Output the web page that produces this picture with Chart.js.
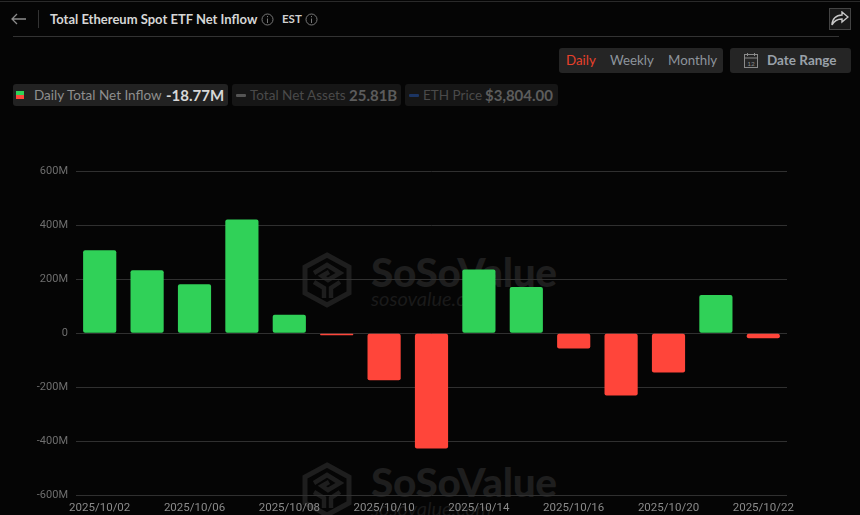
<!DOCTYPE html>
<html>
<head>
<meta charset="utf-8">
<script src="https://cdn.jsdelivr.net/npm/chart.js@4"></script>
<style>
html, body { margin: 0; padding: 0; background: #050505; width: 860px; height: 515px; overflow: hidden; font-family: Lato, sans-serif; }
.abs { position: absolute; white-space: nowrap; }
#chartBox { position: absolute; left: 0; top: 157px; width: 860px; height: 358px; }
.wm1 { color: #1e1e1e; font-weight: 900; font-size: 40.5px; letter-spacing: -0.3px; }
.wm2 { color: #1a1a1a; font-style: italic; font-size: 20px; }
.chip { position: absolute; top: 84px; height: 22px; border-radius: 3px; }
.btn { position: absolute; top: 48px; height: 25px; background: #252525; border-radius: 3px; }
</style>
</head>
<body>
<div class="abs" style="left:0;top:1px;width:860px;height:1px;background:#2a2a2a"></div>
<svg class="abs" style="left:10px;top:12px" width="18" height="14" viewBox="0 0 18 14"><path d="M16 7H2M7 2L2 7L7 12" fill="none" stroke="#8c8c8c" stroke-width="1.3"/></svg>
<div class="abs" style="left:38px;top:10px;width:1px;height:18px;background:#333"></div>
<div class="abs" style="left:50px;top:10px;color:#d6d6d6;font-size:13px;font-weight:700;line-height:18px">Total Ethereum Spot ETF Net Inflow</div>
<svg class="abs" style="left:261px;top:13px" width="13" height="13"><circle cx="6.5" cy="6.5" r="5.5" fill="none" stroke="#777"/><path d="M6.5 5.5V10M6.5 3V4.2" stroke="#777"/></svg>
<div class="abs" style="left:282px;top:10px;color:#cfcfcf;font-size:11.5px;font-weight:700;line-height:18px">EST</div>
<svg class="abs" style="left:305px;top:13px" width="13" height="13"><circle cx="6.5" cy="6.5" r="5.5" fill="none" stroke="#777"/><path d="M6.5 5.5V10M6.5 3V4.2" stroke="#777"/></svg>
<div class="abs" style="left:829px;top:8px;width:20px;height:20px;border:1px solid #444;background:#191919"></div>
<svg class="abs" style="left:831px;top:11px" width="18" height="15" viewBox="0 0 18 15"><path d="M11 1L17 6L11 11V8C6 8 3 10 1 14C1 8 5 4 11 4Z" fill="none" stroke="#c8c8c8" stroke-width="1.4"/></svg>
<div class="abs" style="left:13px;top:36px;width:826px;height:1px;background:#333"></div>

<div class="btn" style="left:559px;width:164px"></div>
<div class="abs" style="left:566px;top:52px;color:#e8412b;font-size:13.3px;line-height:17px">Daily</div>
<div class="abs" style="left:610px;top:52px;color:#8d949c;font-size:13.3px;line-height:17px">Weekly</div>
<div class="abs" style="left:668px;top:52px;color:#8d949c;font-size:13.3px;line-height:17px">Monthly</div>
<div class="btn" style="left:730px;width:121px"></div>
<svg class="abs" style="left:743px;top:52px" width="16" height="17" viewBox="0 0 16 17"><rect x="1.5" y="2.5" width="13" height="13" fill="none" stroke="#8a8a8a"/><path d="M1.5 6H14.500M4.500 1V4M11.500 1V4" stroke="#8a8a8a"/><text x="8" y="13.500" font-size="6.500" fill="#8a8a8a" text-anchor="middle">12</text></svg>
<div class="abs" style="left:767px;top:52px;color:#9aa1a9;font-size:13.5px;font-weight:700;line-height:17px">Date Range</div>

<div class="chip" style="left:13px;width:215px;background:#222"></div>
<div class="abs" style="left:16px;top:91px;width:8px;height:4px;background:#30d158"></div>
<div class="abs" style="left:16px;top:95px;width:8px;height:4px;background:#ff453a"></div>
<div class="abs" style="left:34px;top:86px;color:#8e8e8e;font-size:13.5px;line-height:18px">Daily Total Net Inflow</div>
<div class="abs" style="left:166px;top:85px;color:#d8d8d8;font-size:15px;font-weight:700;line-height:20px">-18.77M</div>
<div class="chip" style="left:232px;width:169px;background:#161616"></div>
<div class="abs" style="left:236px;top:94px;width:10px;height:3px;background:#555;border-radius:1px"></div>
<div class="abs" style="left:250px;top:86px;color:#4a4a4a;font-size:13.5px;line-height:18px">Total Net Assets</div>
<div class="abs" style="left:349px;top:85px;color:#5c5c5c;font-size:15px;font-weight:700;line-height:20px">25.81B</div>
<div class="chip" style="left:405px;width:153px;background:#161616"></div>
<div class="abs" style="left:409px;top:94px;width:10px;height:3px;background:#1c3563;border-radius:1px"></div>
<div class="abs" style="left:423px;top:86px;color:#4a4a4a;font-size:13.5px;line-height:18px">ETH Price</div>
<div class="abs" style="left:485px;top:85px;color:#5c5c5c;font-size:15px;font-weight:700;line-height:20px">$3,804.00</div>

<svg class="abs" style="left:302px;top:252px" width="50" height="56" viewBox="0 0 50 56"><path d="M25 3L47 15V41L25 53L3 41V15Z" fill="none" stroke="#1e1e1e" stroke-width="5"/><path d="M12 21L25 13L38 21L26 28L20 24L27 20M12 30L22 36V46M38 30L29 36V46" fill="none" stroke="#1e1e1e" stroke-width="4.5"/></svg>
<div class="abs wm1" style="left:371px;top:247px">SoSoValue</div>
<div class="abs wm2" style="left:371px;top:286px">sosovalue.com</div>
<svg class="abs" style="left:302px;top:462px" width="50" height="56" viewBox="0 0 50 56"><path d="M25 3L47 15V41L25 53L3 41V15Z" fill="none" stroke="#1e1e1e" stroke-width="5"/><path d="M12 21L25 13L38 21L26 28L20 24L27 20M12 30L22 36V46M38 30L29 36V46" fill="none" stroke="#1e1e1e" stroke-width="4.5"/></svg>
<div class="abs wm1" style="left:371px;top:457px">SoSoValue</div>
<div class="abs wm2" style="left:371px;top:496px">sosovalue.com</div>

<div id="chartBox"><canvas id="flowChart" width="860" height="358"></canvas></div>
<script>
var dates = ["2025/10/02", "2025/10/03", "2025/10/06", "2025/10/07", "2025/10/08", "2025/10/09", "2025/10/10", "2025/10/13", "2025/10/14", "2025/10/15", "2025/10/16", "2025/10/17", "2025/10/20", "2025/10/21", "2025/10/22"];
var netInflow = [308, 234, 182, 422, 69, -7, -174, -427, 237, 172, -56, -231, -145, 142, -18.77];
var yTicks = [-600, -400, -200, 0, 200, 400, 600];
var green = "#30d158";
var red = "#ff453a";

var ctx = document.getElementById("flowChart").getContext("2d");
var flowChart = new Chart(ctx, {
    type: "bar",
    data: {
        labels: dates,
        datasets: [{
            label: "Daily Total Net Inflow",
            data: netInflow,
            backgroundColor: netInflow.map(function(v) { return v >= 0 ? green : red; }),
            borderRadius: 2,
            borderSkipped: false,
            barPercentage: 0.7,
            categoryPercentage: 1
        }]
    },
    options: {
        responsive: false,
        animation: false,
        layout: { padding: { top: 5, left: 0, right: 73, bottom: 0 } },
        plugins: { legend: { display: false }, tooltip: { enabled: false } },
        scales: {
            x: {
                grid: { display: false },
                border: { display: false },
                afterFit: function(scale) { scale.height = 20; },
                ticks: {
                    autoSkip: false,
                    maxRotation: 0,
                    padding: -2,
                    color: "#8a8a8a",
                    font: { family: "Roboto", size: 11.5 },
                    callback: function(value, index) {
                        return index % 2 === 0 ? dates[index] : "";
                    }
                }
            },
            y: {
                min: -600,
                max: 600,
                afterFit: function(scale) { scale.width = 76; },
                afterBuildTicks: function(scale) {
                    scale.ticks = yTicks.map(function(v) { return { value: v }; });
                },
                grid: { color: "#303030", drawTicks: false, lineWidth: 1 },
                border: { display: false },
                ticks: {
                    padding: 8,
                    color: "#6e6e6e",
                    font: { family: "Roboto", size: 11 },
                    callback: function(value) {
                        return value === 0 ? "0" : value + "M";
                    }
                }
            }
        }
    }
});
</script>
</body>
</html>
